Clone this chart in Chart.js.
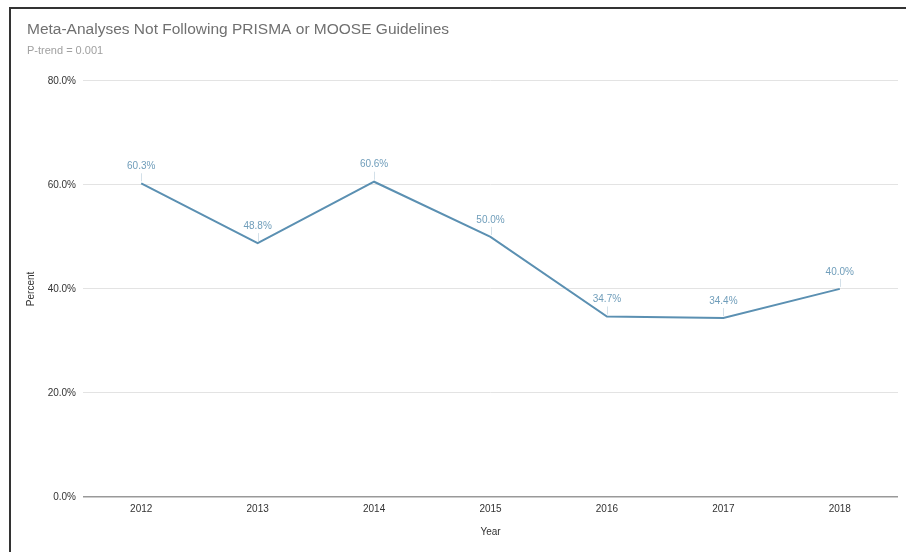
<!DOCTYPE html>
<html>
<head>
<meta charset="utf-8">
<script src="https://cdn.jsdelivr.net/npm/chart.js@4/dist/chart.umd.min.js"></script>
<style>
  html, body { margin: 0; padding: 0; background: #fff; }
  #wrap { position: relative; width: 906px; height: 552px; overflow: hidden; }
  #frame { position: absolute; left: 9px; top: 7px; width: 910px; height: 560px;
           border-top: 2px solid #333; border-left: 2px solid #333; pointer-events: none; }
  canvas { position: absolute; left: 0; top: 0; }
</style>
</head>
<body>
<div id="wrap">
  <canvas id="c" width="906" height="552"></canvas>
  <div id="frame"></div>
</div>
<script>
const years = ['2012', '2013', '2014', '2015', '2016', '2017', '2018'];
const percentNotFollowing = [60.3, 48.8, 60.6, 50.0, 34.7, 34.4, 40.0];
const yTicks = [0, 20, 40, 60, 80];

const FONT = '"Liberation Sans", Arial, sans-serif';
const lineColor = '#5b90b2';
const labelColor = '#6f9dba';

const pointLabels = {
  id: 'pointLabels',
  afterDatasetsDraw(chart) {
    const ctx = chart.ctx;
    const meta = chart.getDatasetMeta(0);
    ctx.save();
    meta.data.forEach((pt, i) => {
      const v = chart.data.datasets[0].data[i];
      ctx.strokeStyle = '#d3e0e9';
      ctx.lineWidth = 1;
      ctx.beginPath();
      ctx.moveTo(Math.round(pt.x) + 0.5, pt.y - 2);
      ctx.lineTo(Math.round(pt.x) + 0.5, pt.y - 10);
      ctx.stroke();
      ctx.fillStyle = labelColor;
      ctx.font = '10px ' + FONT;
      ctx.textAlign = 'center';
      ctx.textBaseline = 'middle';
      ctx.fillText(v.toFixed(1) + '%', pt.x, pt.y - 17);
    });
    ctx.restore();
  }
};

new Chart(document.getElementById('c'), {
  type: 'line',
  data: {
    labels: years,
    datasets: [{
      data: percentNotFollowing,
      borderColor: lineColor,
      borderWidth: 2,
      pointRadius: 0,
      tension: 0,
      fill: false
    }]
  },
  options: {
    responsive: false,
    animation: false,
    devicePixelRatio: 1,
    layout: { padding: { left: 27, right: 8, top: 0, bottom: 0 } },
    plugins: {
      legend: { display: false },
      tooltip: { enabled: false },
      title: {
        display: true,
        text: 'Meta-Analyses Not Following PRISMA or MOOSE Guidelines',
        align: 'start',
        color: '#707070',
        font: { family: FONT, size: 15.5, weight: 'normal', lineHeight: 1.2 },
        padding: { top: 20, bottom: 5 }
      },
      subtitle: {
        display: true,
        text: 'P-trend = 0.001',
        align: 'start',
        color: '#a0a0a0',
        font: { family: FONT, size: 11, weight: 'normal', lineHeight: 1.2 },
        padding: { top: 1, bottom: 23 }
      }
    },
    scales: {
      x: {
        offset: true,
        grid: { display: false, drawTicks: false },
        border: { display: false },
        ticks: { color: '#333', font: { family: FONT, size: 10 }, padding: 6, maxRotation: 0 },
        title: {
          display: true, text: 'Year', color: '#333',
          font: { family: FONT, size: 10, lineHeight: 1.2 },
          padding: { top: 0, bottom: 14 }
        },
        afterFit(s) { s.height = 55; }
      },
      y: {
        min: 0, max: 80,
        afterBuildTicks(s) { s.ticks = yTicks.map(v => ({ value: v })); },
        grid: {
          drawTicks: false,
          color: ctx => (ctx.tick && ctx.tick.value === 0) ? '#999' : '#e3e3e3',
          lineWidth: ctx => (ctx.tick && ctx.tick.value === 0) ? 1.5 : 1
        },
        border: { display: false },
        ticks: {
          color: '#333', font: { family: FONT, size: 10 }, padding: 7,
          callback: v => Number(v).toFixed(1) + '%'
        },
        title: {
          display: true, text: 'Percent', color: '#333',
          font: { family: FONT, size: 10, lineHeight: 0.8 },
          padding: 0
        },
        afterFit(s) { s.width = 56; }
      }
    }
  },
  plugins: [pointLabels]
});
</script>
</body>
</html>
